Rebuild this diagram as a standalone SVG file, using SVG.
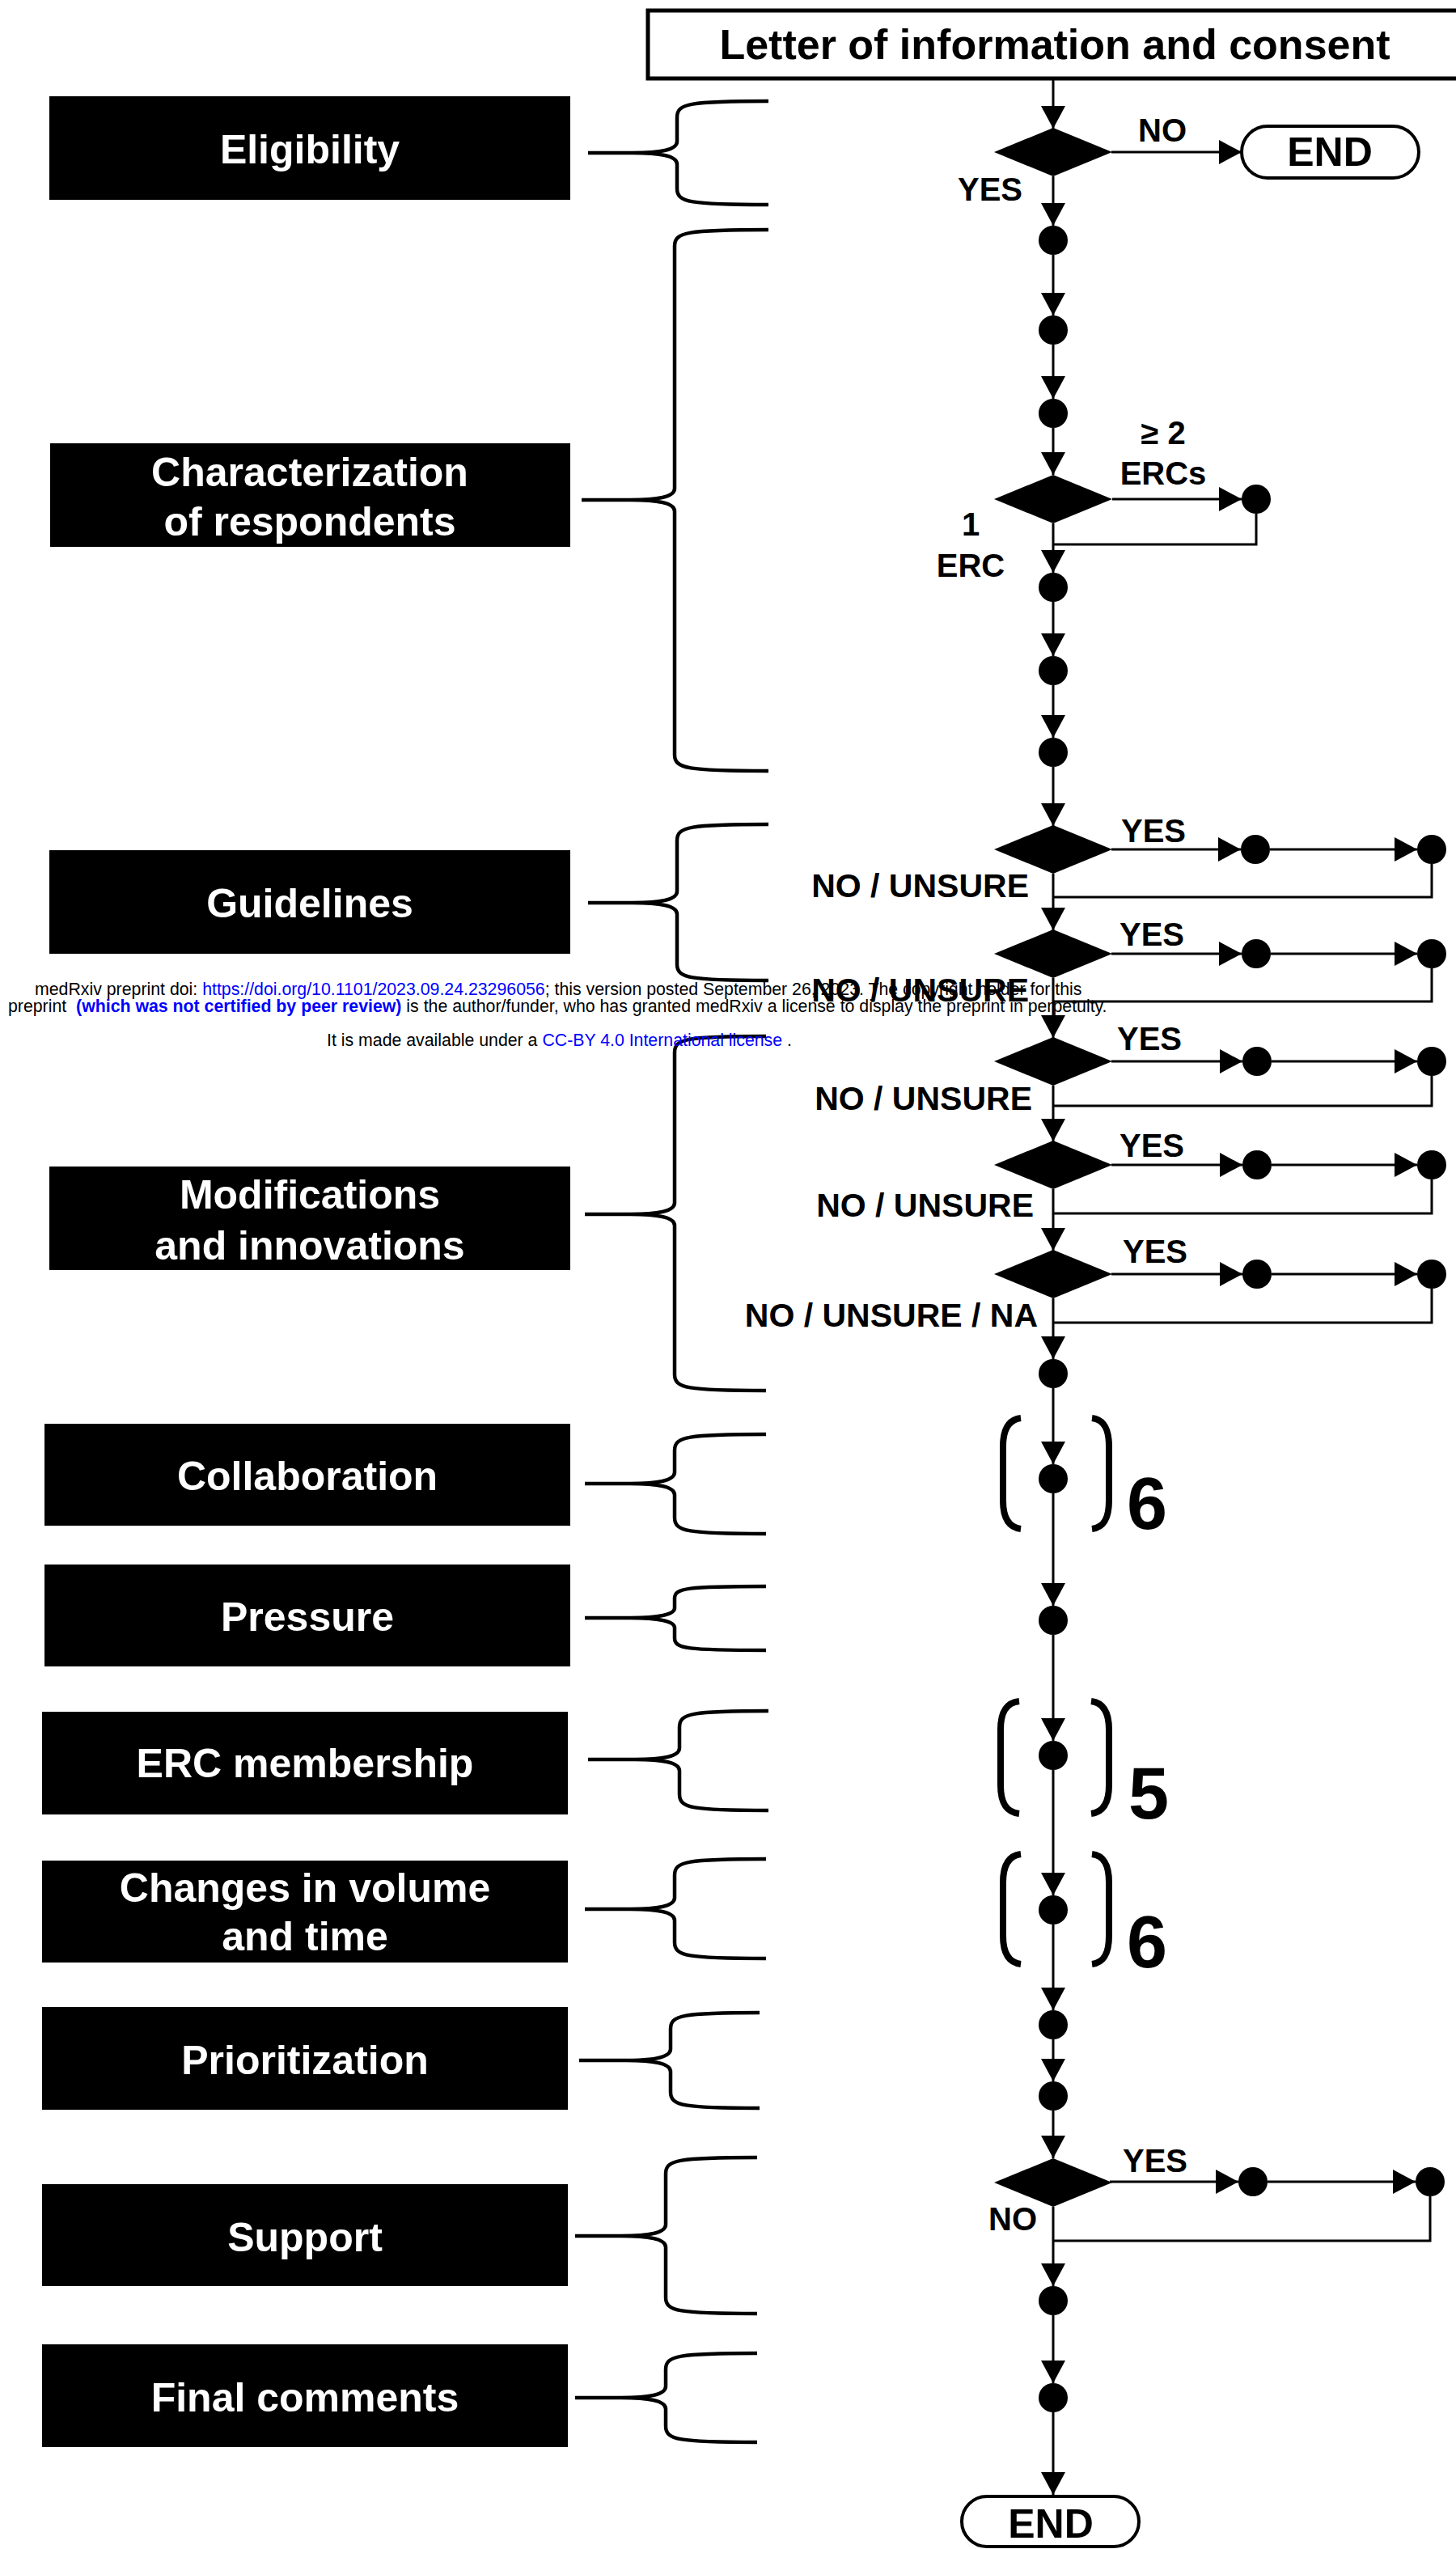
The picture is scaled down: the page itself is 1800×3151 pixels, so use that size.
<svg xmlns="http://www.w3.org/2000/svg" width="1800" height="3151" viewBox="0 0 1800 3151">
<style>
.bg{fill:#fff}
.box{fill:#000}
.lbl{font-family:"Liberation Sans",Arial,sans-serif;font-weight:bold;font-size:50px;fill:#fff;text-anchor:middle}
.t{font-family:"Liberation Sans",Arial,sans-serif;font-weight:bold;font-size:40px;fill:#000;text-anchor:middle}
.te{font-family:"Liberation Sans",Arial,sans-serif;font-weight:bold;font-size:41px;fill:#000;text-anchor:end}
.big{font-family:"Liberation Sans",Arial,sans-serif;font-weight:bold;font-size:90px;fill:#000}
.con{stroke:#000;stroke-width:3;fill:none}
.brace{stroke:#000;stroke-width:4.5;fill:none;stroke-linejoin:round}
.brk{stroke:#000;stroke-width:8;fill:none}
.dot{fill:#000}
.term{fill:#fff;stroke:#000;stroke-width:4}
.med{font-family:"Liberation Sans",Arial,sans-serif;font-size:21.3px;fill:#000}
.blue{fill:#0000ff}
</style>
<defs>
<marker id="arr" viewBox="0 0 28 30" refX="28" refY="15" markerWidth="28" markerHeight="30" markerUnits="userSpaceOnUse" orient="auto">
<path d="M0,0 L28,15 L0,30 Z" fill="#000"/>
</marker>
<path id="dia" d="M-73,0 L0,-30 L73,0 L0,30 Z"/>
</defs>
<rect class="bg" x="0" y="0" width="1800" height="3151"/>

<!-- connectors -->
<g id="connectors">
<g marker-end="url(#arr)">
<line class="con" x1="1302" y1="97" x2="1302" y2="159"/>
<line class="con" x1="1374" y1="188" x2="1535" y2="188"/>
<line class="con" x1="1302" y1="218" x2="1302" y2="279"/>
<line class="con" x1="1302" y1="315" x2="1302" y2="390"/>
<line class="con" x1="1302" y1="426" x2="1302" y2="493"/>
<line class="con" x1="1302" y1="529" x2="1302" y2="587"/>
<line class="con" x1="1375" y1="617" x2="1535" y2="617"/>
<line class="con" x1="1302" y1="647" x2="1302" y2="708"/>
<line class="con" x1="1302" y1="744" x2="1302" y2="811"/>
<line class="con" x1="1302" y1="847" x2="1302" y2="912"/>
<line class="con" x1="1302" y1="948" x2="1302" y2="1021"/>
<line class="con" x1="1374" y1="1050" x2="1534" y2="1050"/>
<line class="con" x1="1570" y1="1050" x2="1752" y2="1050"/>
<line class="con" x1="1302" y1="1080" x2="1302" y2="1150"/>
<line class="con" x1="1374" y1="1179" x2="1535" y2="1179"/>
<line class="con" x1="1571" y1="1179" x2="1752" y2="1179"/>
<line class="con" x1="1302" y1="1209" x2="1302" y2="1283"/>
<line class="con" x1="1374" y1="1312" x2="1536" y2="1312"/>
<line class="con" x1="1572" y1="1312" x2="1752" y2="1312"/>
<line class="con" x1="1302" y1="1342" x2="1302" y2="1411"/>
<line class="con" x1="1374" y1="1440" x2="1536" y2="1440"/>
<line class="con" x1="1572" y1="1440" x2="1752" y2="1440"/>
<line class="con" x1="1302" y1="1470" x2="1302" y2="1546"/>
<line class="con" x1="1374" y1="1575" x2="1536" y2="1575"/>
<line class="con" x1="1572" y1="1575" x2="1752" y2="1575"/>
<line class="con" x1="1302" y1="1605" x2="1302" y2="1680"/>
<line class="con" x1="1302" y1="1716" x2="1302" y2="1810"/>
<line class="con" x1="1302" y1="1846" x2="1302" y2="1985"/>
<line class="con" x1="1302" y1="2021" x2="1302" y2="2152"/>
<line class="con" x1="1302" y1="2188" x2="1302" y2="2343"/>
<line class="con" x1="1302" y1="2379" x2="1302" y2="2485"/>
<line class="con" x1="1302" y1="2521" x2="1302" y2="2573"/>
<line class="con" x1="1302" y1="2609" x2="1302" y2="2668"/>
<line class="con" x1="1372" y1="2697" x2="1531" y2="2697"/>
<line class="con" x1="1567" y1="2697" x2="1750" y2="2697"/>
<line class="con" x1="1302" y1="2728" x2="1302" y2="2826"/>
<line class="con" x1="1302" y1="2862" x2="1302" y2="2946"/>
<line class="con" x1="1302" y1="2982" x2="1302" y2="3084"/>
</g>
<polyline class="con" points="1553,635 1553,673 1302,673"/>
<polyline class="con" points="1770,1068 1770,1109 1302,1109"/>
<polyline class="con" points="1770,1197 1770,1238 1302,1238"/>
<polyline class="con" points="1770,1330 1770,1367 1302,1367"/>
<polyline class="con" points="1770,1458 1770,1500 1302,1500"/>
<polyline class="con" points="1770,1593 1770,1635 1302,1635"/>
<polyline class="con" points="1768,2715 1768,2770 1302,2770"/>
</g>

<!-- top box -->
<g id="consent">
<rect x="801" y="13" width="1020" height="84" fill="#fff" stroke="#000" stroke-width="5"/>
<text class="t" x="1304" y="73" style="font-size:52px">Letter of information and consent</text>
</g>

<!-- section labels -->
<g id="sec-eligibility"><rect class="box" x="61" y="119" width="644" height="128"/><text class="lbl" x="383" y="202">Eligibility</text>
<path class="brace" d="M950,125 C852,125 837,128 837,145 L837,175 C837,185 817,189 782,189 L727,189 M782,189 C817,189 837,193 837,203 L837,233 C837,250 852,253 950,253"/></g>
<g id="sec-characterization"><rect class="box" x="62" y="548" width="643" height="128"/><text class="lbl" x="383" y="601">Characterization</text><text class="lbl" x="383" y="662">of respondents</text>
<path class="brace" d="M950,284 C849,284 834,287 834,304 L834,604 C834,614 814,618 779,618 L719,618 M779,618 C814,618 834,622 834,632 L834,933 C834,950 849,953 950,953"/></g>
<g id="sec-guidelines"><rect class="box" x="61" y="1051" width="644" height="128"/><text class="lbl" x="383" y="1134">Guidelines</text>
<path class="brace" d="M950,1019 C852,1019 837,1022 837,1039 L837,1102 C837,1112 817,1116 782,1116 L727,1116 M782,1116 C817,1116 837,1120 837,1130 L837,1192 C837,1209 852,1212 950,1212"/></g>
<g id="sec-modifications"><rect class="box" x="61" y="1442" width="644" height="128"/><text class="lbl" x="383" y="1494">Modifications</text><text class="lbl" x="383" y="1557">and innovations</text>
<path class="brace" d="M947,1281 C849,1281 834,1284 834,1301 L834,1487 C834,1497 814,1501 779,1501 L723,1501 M779,1501 C814,1501 834,1505 834,1515 L834,1699 C834,1716 849,1719 947,1719"/></g>
<g id="sec-collaboration"><rect class="box" x="55" y="1760" width="650" height="126"/><text class="lbl" x="380" y="1842">Collaboration</text>
<path class="brace" d="M947,1773 C849,1773 834,1776 834,1793 L834,1820 C834,1830 814,1834 779,1834 L723,1834 M779,1834 C814,1834 834,1838 834,1848 L834,1876 C834,1893 849,1896 947,1896"/></g>
<g id="sec-pressure"><rect class="box" x="55" y="1934" width="650" height="126"/><text class="lbl" x="380" y="2016">Pressure</text>
<path class="brace" d="M947,1961 C849,1961 834,1963 834,1976 L834,1988 C834,1996 814,2000 779,2000 L723,2000 M779,2000 C814,2000 834,2004 834,2012 L834,2025 C834,2038 849,2040 947,2040"/></g>
<g id="sec-erc"><rect class="box" x="52" y="2116" width="650" height="127"/><text class="lbl" x="377" y="2197">ERC membership</text>
<path class="brace" d="M950,2115 C855,2115 840,2118 840,2135 L840,2161 C840,2171 820,2175 785,2175 L727,2175 M785,2175 C820,2175 840,2179 840,2189 L840,2218 C840,2235 855,2238 950,2238"/></g>
<g id="sec-changes"><rect class="box" x="52" y="2300" width="650" height="126"/><text class="lbl" x="377" y="2351">Changes in volume</text><text class="lbl" x="377" y="2411">and time</text>
<path class="brace" d="M947,2298 C849,2298 834,2301 834,2318 L834,2346 C834,2356 814,2360 779,2360 L723,2360 M779,2360 C814,2360 834,2364 834,2374 L834,2401 C834,2418 849,2421 947,2421"/></g>
<g id="sec-prioritization"><rect class="box" x="52" y="2481" width="650" height="127"/><text class="lbl" x="377" y="2564">Prioritization</text>
<path class="brace" d="M939,2488 C844,2488 829,2491 829,2508 L829,2533 C829,2543 809,2547 774,2547 L716,2547 M774,2547 C809,2547 829,2551 829,2561 L829,2586 C829,2603 844,2606 939,2606"/></g>
<g id="sec-support"><rect class="box" x="52" y="2700" width="650" height="126"/><text class="lbl" x="377" y="2783">Support</text>
<path class="brace" d="M936,2667 C838,2667 823,2670 823,2687 L823,2750 C823,2760 803,2764 768,2764 L711,2764 M768,2764 C803,2764 823,2768 823,2778 L823,2840 C823,2857 838,2860 936,2860"/></g>
<g id="sec-final"><rect class="box" x="52" y="2898" width="650" height="127"/><text class="lbl" x="377" y="2981">Final comments</text>
<path class="brace" d="M936,2909 C838,2909 823,2912 823,2929 L823,2950 C823,2960 803,2964 768,2964 L711,2964 M768,2964 C803,2964 823,2968 823,2978 L823,2999 C823,3016 838,3019 936,3019"/></g>

<!-- flow nodes -->
<g id="d-eligible"><use href="#dia" x="1302" y="188"/><text class="t" x="1437" y="175">NO</text><text class="t" x="1224" y="248">YES</text></g>
<g id="end-top"><rect class="term" x="1535" y="156" width="219" height="64" rx="32"/><text class="t" x="1644" y="205" style="font-size:50px">END</text></g>
<g id="q1"><circle class="dot" cx="1302" cy="297" r="18"/></g>
<g id="q2"><circle class="dot" cx="1302" cy="408" r="18"/></g>
<g id="q3"><circle class="dot" cx="1302" cy="511" r="18"/></g>
<g id="d-erc"><use href="#dia" x="1302" y="617"/><text class="t" x="1438" y="549">≥ 2</text><text class="t" x="1438" y="599">ERCs</text><text class="t" x="1200" y="662">1</text><text class="t" x="1200" y="713">ERC</text></g>
<g id="q-erc-multi"><circle class="dot" cx="1553" cy="617" r="18"/></g>
<g id="q4"><circle class="dot" cx="1302" cy="726" r="18"/></g>
<g id="q5"><circle class="dot" cx="1302" cy="829" r="18"/></g>
<g id="q6"><circle class="dot" cx="1302" cy="930" r="18"/></g>

<g id="d-g1"><use href="#dia" x="1302" y="1050"/><text class="t" x="1426" y="1041">YES</text><text class="te" x="1272" y="1109">NO / UNSURE</text><circle class="dot" cx="1552" cy="1050" r="18"/><circle class="dot" cx="1770" cy="1050" r="18"/></g>
<g id="d-g2"><use href="#dia" x="1302" y="1179"/><text class="t" x="1424" y="1169">YES</text><text class="te" x="1272" y="1238">NO / UNSURE</text><circle class="dot" cx="1553" cy="1179" r="18"/><circle class="dot" cx="1770" cy="1179" r="18"/></g>
<g id="d-m1"><use href="#dia" x="1302" y="1312"/><text class="t" x="1421" y="1298">YES</text><text class="te" x="1276" y="1372">NO / UNSURE</text><circle class="dot" cx="1554" cy="1312" r="18"/><circle class="dot" cx="1770" cy="1312" r="18"/></g>
<g id="d-m2"><use href="#dia" x="1302" y="1440"/><text class="t" x="1424" y="1430">YES</text><text class="te" x="1278" y="1504">NO / UNSURE</text><circle class="dot" cx="1554" cy="1440" r="18"/><circle class="dot" cx="1770" cy="1440" r="18"/></g>
<g id="d-m3"><use href="#dia" x="1302" y="1575"/><text class="t" x="1428" y="1561">YES</text><text class="te" x="1283" y="1640">NO / UNSURE / NA</text><circle class="dot" cx="1554" cy="1575" r="18"/><circle class="dot" cx="1770" cy="1575" r="18"/></g>
<g id="q-m4"><circle class="dot" cx="1302" cy="1698" r="18"/></g>

<g id="rep-collab"><circle class="dot" cx="1302" cy="1828" r="18"/>
<path class="brk" d="M1262,1753 C1246,1755 1240,1768 1240,1788 L1240,1855 C1240,1875 1246,1888 1262,1890"/>
<path class="brk" d="M1350,1753 C1366,1755 1371,1768 1371,1788 L1371,1855 C1371,1875 1366,1888 1350,1890"/>
<text class="big" x="1393" y="1890">6</text></g>
<g id="q-pressure"><circle class="dot" cx="1302" cy="2003" r="18"/></g>
<g id="rep-erc"><circle class="dot" cx="1302" cy="2170" r="18"/>
<path class="brk" d="M1260,2103 C1243,2105 1237,2118 1237,2138 L1237,2207 C1237,2227 1243,2240 1260,2242"/>
<path class="brk" d="M1349,2103 C1365,2105 1371,2118 1371,2138 L1371,2207 C1371,2227 1365,2240 1349,2242"/>
<text class="big" x="1395" y="2248">5</text></g>
<g id="rep-changes"><circle class="dot" cx="1302" cy="2361" r="18"/>
<path class="brk" d="M1262,2292 C1246,2294 1240,2307 1240,2327 L1240,2393 C1240,2413 1246,2426 1262,2428"/>
<path class="brk" d="M1350,2292 C1366,2294 1371,2307 1371,2327 L1371,2393 C1371,2413 1366,2426 1350,2428"/>
<text class="big" x="1393" y="2432">6</text></g>
<g id="q-prio1"><circle class="dot" cx="1302" cy="2503" r="18"/></g>
<g id="q-prio2"><circle class="dot" cx="1302" cy="2591" r="18"/></g>
<g id="d-support"><use href="#dia" x="1302" y="2698"/><text class="t" x="1428" y="2685">YES</text><text class="t" x="1252" y="2757">NO</text><circle class="dot" cx="1549" cy="2697" r="18"/><circle class="dot" cx="1768" cy="2697" r="18"/></g>
<g id="q-s1"><circle class="dot" cx="1302" cy="2844" r="18"/></g>
<g id="q-final"><circle class="dot" cx="1302" cy="2964" r="18"/></g>
<g id="end-bottom"><rect class="term" x="1189" y="3086" width="219" height="62" rx="31"/><text class="t" x="1299" y="3137" style="font-size:50px">END</text></g>

<!-- preprint overlay -->
<g id="medrxiv">
<text class="med" x="43" y="1230" xml:space="preserve">medRxiv preprint doi: <tspan class="blue">https://doi.org/10.1101/2023.09.24.23296056</tspan>; this version posted September 26, 2023. The copyright holder for this</text>
<text class="med" x="10" y="1251" xml:space="preserve">preprint  <tspan class="blue" font-weight="bold">(which was not certified by peer review)</tspan> is the author/funder, who has granted medRxiv a license to display the preprint in perpetuity.</text>
<text class="med" x="404" y="1293" xml:space="preserve">It is made available under a <tspan class="blue">CC-BY 4.0 International license</tspan> .</text>
</g>
</svg>
